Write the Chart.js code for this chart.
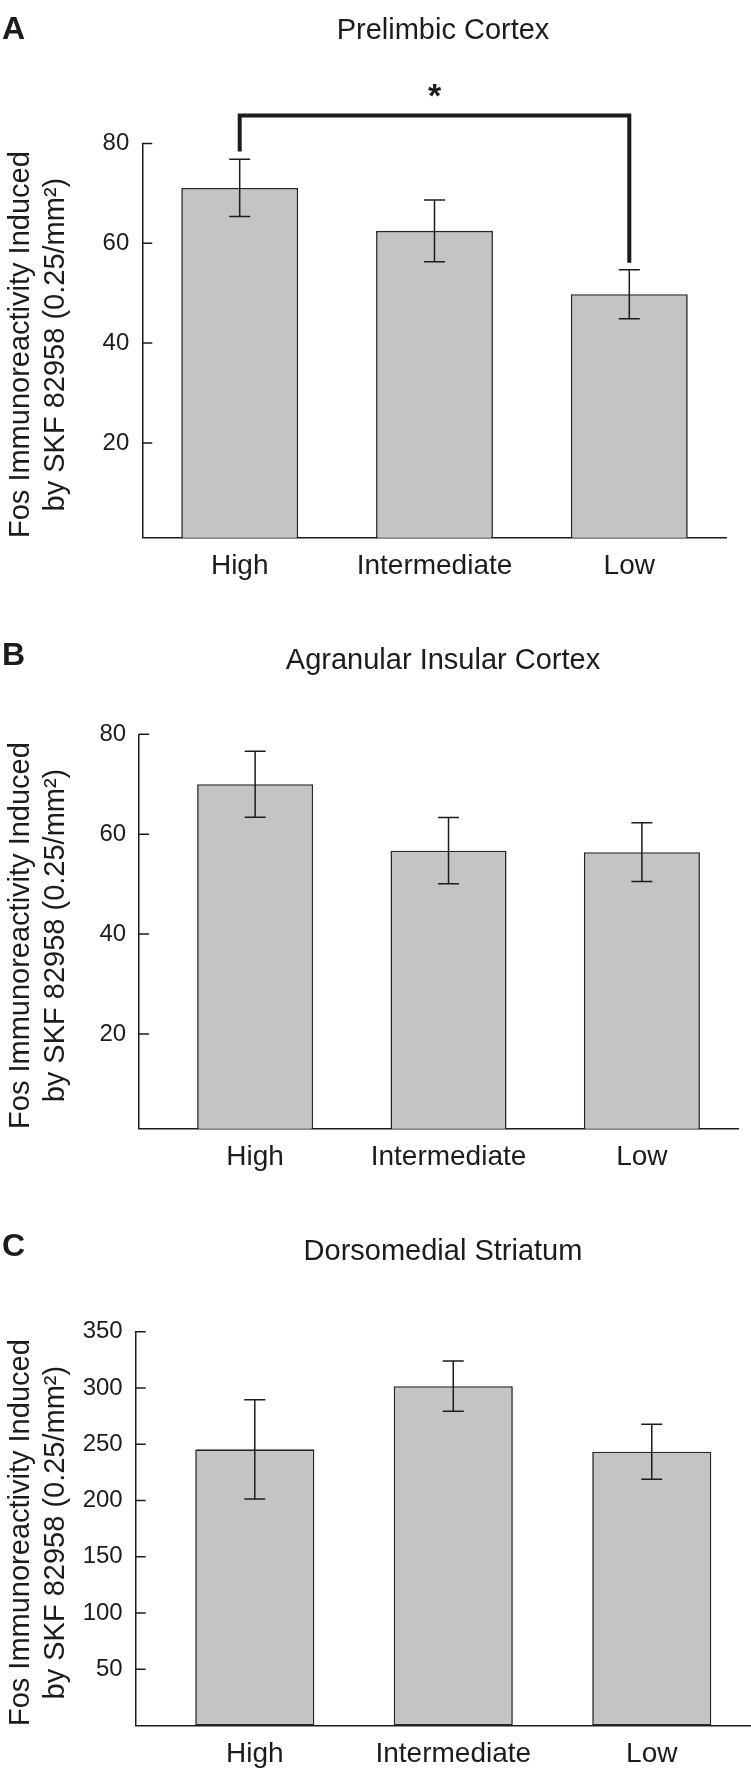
<!DOCTYPE html>
<html>
<head>
<meta charset="utf-8">
<title>Fos immunoreactivity induced by SKF 82958</title>
<script src="https://cdn.jsdelivr.net/npm/chart.js@4.4.0/dist/chart.umd.min.js"></script>
<style>
  html, body { margin: 0; padding: 0; background: #fff; }
  .panel { position: absolute; left: 0; }
</style>
</head>
<body>
<canvas id="panelA" class="panel" width="751" height="590" style="top:0"></canvas>
<canvas id="panelB" class="panel" width="751" height="590" style="top:590px"></canvas>
<canvas id="panelC" class="panel" width="751" height="591" style="top:1180px"></canvas>
<script>
// groups and their position on the x axis
const groups = ['High', 'Intermediate', 'Low'];
const groupPos = [1, 2, 3];

// mean and SEM
const prelimbicMean = [71.1, 62.5, 49.8];
const prelimbicSem = [5.75, 6.2, 4.9];
const insularMean = [70.0, 56.7, 56.4];
const insularSem = [6.6, 6.65, 5.9];
const striatumMean = [245.5, 301.7, 243.4];
const striatumSem = [44.2, 22.4, 24.4];

// y tick values
const ticksCortex = [20, 40, 60, 80];
const ticksStriatum = [50, 100, 150, 200, 250, 300, 350];

const yTitleLines = ['Fos Immunoreactivity Induced', 'by SKF 82958 (0.25/mm\u00B2)'];

// significance bracket in panel A (High vs Low)
const sigPair = [0, 2];
const sigBarY = 85.6;
const sigLegEnds = [78.4, 56.1];
const sigStarY = 90.6;

const INK = '#1c1c1c';
const FONT = '"Liberation Sans", Arial, Helvetica, sans-serif';
Chart.defaults.font.family = FONT;
Chart.defaults.color = INK;

function drawPanel(canvasId, p) {
    // ticks pointing inward, error bars, bracket and the texts around the plot
    const decor = {
        id: 'decor',
        afterDraw(chart) {
            const { ctx, chartArea } = chart;
            const xs = chart.scales.x, ys = chart.scales.y;
            ctx.save();
            ctx.strokeStyle = INK;
            ctx.lineWidth = 1.5;

            ctx.beginPath();
            p.ticks.forEach(t => {
                const py = ys.getPixelForValue(t);
                ctx.moveTo(chartArea.left, py);
                ctx.lineTo(chartArea.left + 10, py);
            });
            ctx.stroke();

            // error bars
            ctx.beginPath();
            p.mean.forEach((m, i) => {
                const px = xs.getPixelForValue(groupPos[i]);
                const top = ys.getPixelForValue(m + p.sem[i]);
                const bot = ys.getPixelForValue(m - p.sem[i]);
                ctx.moveTo(px, top); ctx.lineTo(px, bot);
                ctx.moveTo(px - 10.5, top); ctx.lineTo(px + 10.5, top);
                ctx.moveTo(px - 10.5, bot); ctx.lineTo(px + 10.5, bot);
            });
            ctx.stroke();

            if (p.bracket) {
                const x0 = xs.getPixelForValue(groupPos[sigPair[0]]);
                const x1 = xs.getPixelForValue(groupPos[sigPair[1]]);
                const yb = ys.getPixelForValue(sigBarY);
                ctx.lineWidth = 4;
                ctx.lineJoin = 'miter';
                ctx.beginPath();
                ctx.moveTo(x0, ys.getPixelForValue(sigLegEnds[0]));
                ctx.lineTo(x0, yb);
                ctx.lineTo(x1, yb);
                ctx.lineTo(x1, ys.getPixelForValue(sigLegEnds[1]));
                ctx.stroke();

                ctx.fillStyle = INK;
                ctx.font = 'bold 34px ' + FONT;
                ctx.textAlign = 'center';
                ctx.textBaseline = 'alphabetic';
                const m = ctx.measureText('*');
                const cy = ys.getPixelForValue(sigStarY);
                ctx.fillText('*', (x0 + x1) / 2, cy + (m.actualBoundingBoxAscent - m.actualBoundingBoxDescent) / 2);
            }

            ctx.fillStyle = INK;
            ctx.textBaseline = 'alphabetic';
            ctx.textAlign = 'left';
            ctx.font = 'bold 32px ' + FONT;
            ctx.fillText(p.letter, 2, p.letterBase);

            ctx.textAlign = 'center';
            ctx.font = '29px ' + FONT;
            ctx.fillText(p.title, 443, p.titleBase);

            const cy = (chartArea.top + chartArea.bottom) / 2 + 4;
            [29, 64].forEach((bx, k) => {
                ctx.save();
                ctx.translate(bx, cy);
                ctx.rotate(-Math.PI / 2);
                ctx.fillText(yTitleLines[k], 0, 0);
                ctx.restore();
            });
            ctx.restore();
        }
    };

    const canvas = document.getElementById(canvasId);
    new Chart(canvas, {
        type: 'bar',
        data: {
            datasets: [{
                data: p.mean.map((m, i) => ({ x: groupPos[i], y: m })),
                backgroundColor: '#c4c4c4',
                borderColor: '#262626',
                borderWidth: 1.6,
                borderSkipped: false,
                categoryPercentage: 1,
                barPercentage: 0.6
            }]
        },
        options: {
            responsive: false,
            animation: false,
            devicePixelRatio: 1,
            events: [],
            layout: { padding: { left: 0, right: p.padRight, top: p.top, bottom: 0 } },
            plugins: { legend: { display: false }, tooltip: { enabled: false } },
            scales: {
                x: {
                    type: 'linear',
                    min: p.xMin,
                    max: 3.5,
                    offset: false,
                    grid: { display: false, drawTicks: false },
                    border: { display: true, color: INK, width: 1.5 },
                    afterBuildTicks: s => { s.ticks = groupPos.map(v => ({ value: v })); },
                    afterFit: s => { s.height = p.xHeight; },
                    ticks: {
                        callback: (v, i) => groups[i],
                        font: { size: 28 },
                        padding: 12,
                        maxRotation: 0,
                        autoSkip: false
                    }
                },
                y: {
                    min: p.yMin,
                    max: p.ticks[p.ticks.length - 1],
                    grid: { display: false, drawTicks: false },
                    border: { display: true, color: INK, width: 1.5 },
                    afterBuildTicks: s => { s.ticks = p.ticks.map(v => ({ value: v })); },
                    afterFit: s => { s.width = p.left; },
                    ticks: { font: { size: 24 }, padding: 13 }
                }
            }
        },
        plugins: [decor]
    });
}

drawPanel('panelA', {
    letter: 'A', letterBase: 39, title: 'Prelimbic Cortex', titleBase: 39,
    mean: prelimbicMean, sem: prelimbicSem, ticks: ticksCortex, yMin: 1,
    xMin: 0.5, left: 142.3, padRight: 24.3, top: 143.5, xHeight: 52.3, bracket: true
});
drawPanel('panelB', {
    letter: 'B', letterBase: 75, title: 'Agranular Insular Cortex', titleBase: 79,
    mean: insularMean, sem: insularSem, ticks: ticksCortex, yMin: 1,
    xMin: 0.4, left: 139.1, padRight: 12.4, top: 144.3, xHeight: 51.2, bracket: false
});
drawPanel('panelC', {
    letter: 'C', letterBase: 76, title: 'Dorsomedial Striatum', titleBase: 80,
    mean: striatumMean, sem: striatumSem, ticks: ticksStriatum, yMin: 0,
    xMin: 0.4, left: 135.7, padRight: 0, top: 151.8, xHeight: 45.5, bracket: false
});
</script>
</body>
</html>
